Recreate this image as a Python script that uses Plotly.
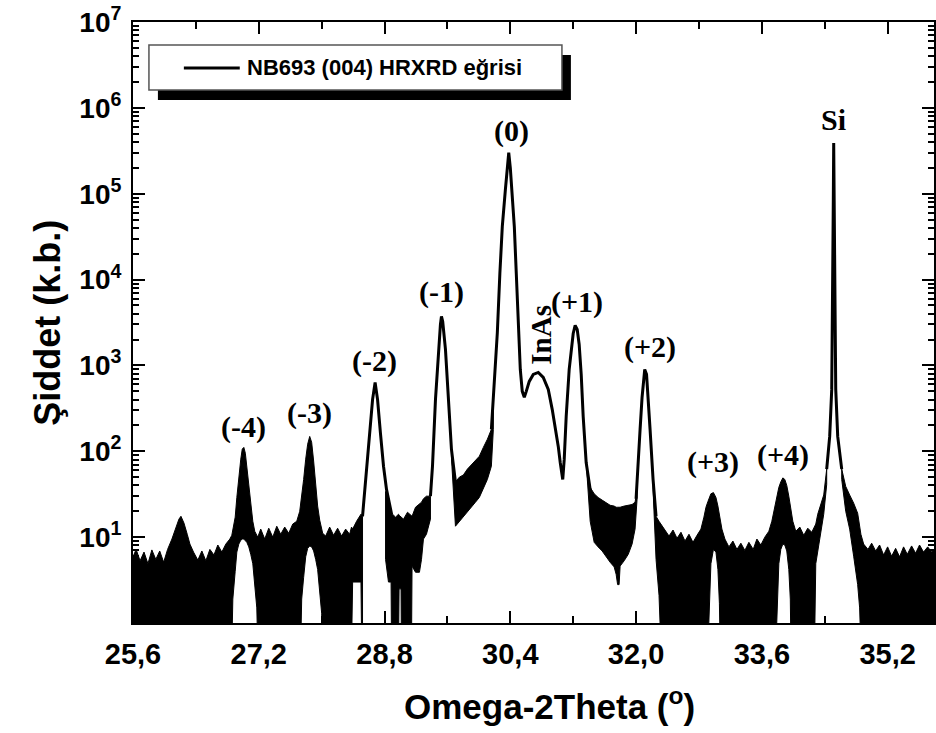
import plotly.graph_objects as go

# ---------------- data ----------------
# main (clean) line segments: degrees / counts ; None separates segments
curve_x = [
    28.52, 28.55, 28.58, 28.62, 28.648, 28.68, 28.711, 28.749, 28.787, 28.825, 28.85, 28.89, None,
    29.384, 29.41, 29.448, 29.486, 29.511, 29.524, 29.54, 29.575, 29.613, 29.651, 29.702, None,
    30.159, 30.184, 30.235, 30.267, 30.298, 30.337, 30.36, 30.38, 30.40, 30.419, 30.451, 30.476,
    30.502, 30.527, 30.552, 30.578, 30.603, 30.641, 30.692, 30.756, 30.819, 30.883, 30.933, 30.971,
    31.010, 31.035, 31.067, 31.086, 31.111, 31.149, 31.175, 31.200, 31.225, 31.251, 31.276, 31.302,
    31.327, 31.365, 31.416, None,
    32.000, 32.025, 32.051, 32.076, 32.102, 32.11, 32.133, 32.152, 32.178, 32.216, 32.254, None,
    34.425, 34.463, 34.489, 34.502, 34.509, 34.514, 34.519, 34.527, 34.540, 34.565, 34.616,
]
curve_y = [
    17.5, 36, 67, 180, 403, 634, 403, 158, 67, 36, 28, 18.5, None,
    30, 67, 403, 1535, 3000, 3715, 3250, 1535, 403, 106, 44, None,
    180, 403, 2420, 11750, 41300, 111000, 217000, 300000, 200000, 111000, 41300, 11750,
    2420, 898, 499, 425, 499, 651, 786, 829, 725, 526, 308, 195,
    114, 74, 47, 81, 255, 898, 1535, 2355, 2920, 2620, 1754, 786,
    255, 74, 36, None,
    28, 62, 180, 425, 765, 898, 786, 460, 180, 47, 17.5, None,
    62, 149, 526, 5850, 85200, 390000, 85200, 5850, 526, 149, 62,
]

# noisy band: x, upper edge, lower edge (0.5 = down to the axis); None separates bands
band_x = [
    25.60, 25.64, 25.69, 25.74, 25.79, 25.84, 25.89, 25.94, 25.99, 26.04, 26.095, 26.146, 26.184,
    26.21, 26.248, 26.29, 26.324, 26.37, 26.425, 26.476, 26.527, 26.578, 26.63, 26.679, 26.73,
    26.781, 26.832, 26.857,
    26.87, 26.90, 26.921, 26.946, 26.971, 26.990, 27.010, 27.029, 27.048, 27.073, 27.098, 27.124,
    27.149, 27.175, 27.187,
    27.225, 27.276, 27.327, 27.378, 27.429, 27.479, 27.530, 27.581, 27.632, 27.683, 27.721, 27.733,
    27.746, 27.771, 27.797, 27.822, 27.848, 27.873, 27.898, 27.924, 27.949, 27.975, 28.000, 28.013,
    28.051, 28.102, 28.152, 28.203, 28.254, 28.305, 28.356, 28.38, 28.394, 28.444, 28.50, 28.51, 28.52,
    None,
    28.813, 28.85, 28.883, 28.889, 28.940, 28.978, 28.985, 29.010, 29.015, 29.041, 29.092, 29.143,
    29.15, 29.194, 29.244, 29.270, 29.295, 29.333, 29.384,
    None,
    29.651, 29.702, 29.752, 29.803, 29.854, 29.905, 29.956, 30.006, 30.057, 30.108, 30.159, 30.184,
    None,
    31.365, 31.416, 31.467, 31.517, 31.568, 31.619, 31.670, 31.721, 31.746, 31.765, 31.784, 31.797,
    31.848, 31.90, 31.949, 31.987, 32.013,
    None,
    32.216, 32.254, 32.292, 32.317, 32.368, 32.419, 32.470, 32.521, 32.571, 32.622, 32.673, 32.724,
    32.775, 32.825, 32.863, 32.889, 32.914, 32.933, 32.952, 32.984, 33.016, 33.041, 33.060, 33.07,
    33.092, 33.130, 33.181, 33.232, 33.283, 33.333, 33.384, 33.435, 33.49, 33.537, 33.587, 33.638,
    33.689, 33.727, 33.752, 33.778, 33.797, 33.816, 33.841, 33.867, 33.892, 33.917, 33.943, 33.962,
    33.97, 33.994, 34.032, 34.083, 34.133, 34.184, 34.235, 34.27, 34.286, 34.311, 34.349, 34.387, 34.425,
    None,
    34.616, 34.667, 34.717, 34.768, 34.819, 34.844, 34.86, 34.895, 34.95, 34.997, 35.048, 35.098,
    35.149, 35.20, 35.251, 35.302, 35.352, 35.403, 35.45, 35.505, 35.556, 35.606, 35.657, 35.71,
    35.76, 35.80,
]
band_hi = [
    5.9, 7.2, 5.3, 6.7, 4.9, 7.1, 5.5, 6.9, 5.1, 7.2, 9.5, 13.1, 16.2,
    17.5, 14.6, 10.8, 8.3, 6.7, 5.4, 6.9, 5.3, 7.2, 6.2, 8.1, 6.7,
    8.3, 9.5, 10.5,
    12.4, 17.1, 29, 50, 81, 106, 111, 95, 65, 36, 22.3, 15.3,
    11.7, 10.3, 10.0,
    12.4, 9.5, 12.7, 10.0, 13.4, 10.8, 13.1, 11.1, 14.2, 15.3, 20, 24,
    29, 47, 81, 121, 149, 127, 77, 39, 23, 15.8, 12.4, 11.1,
    10.3, 13.1, 10.5, 12.7, 10.3, 12.4, 10.8, 13.1, 12.4, 15.3, 18.5, 17.5, 17.5,
    None,
    34, 28, 20, 19, 17.1, 18.5, 18, 17.1, 17.1, 16.2, 19.5, 17.5,
    17.5, 22.3, 24, 25.5, 28, 30, 30,
    None,
    100, 44, 50, 53, 62, 69, 77, 87.5, 111, 138, 180, 403,
    None,
    74, 38, 32, 29, 27, 24.9, 23.5, 23, 22.3, 22.3, 22.3, 22.3,
    23, 23.5, 24, 25.5, 36,
    None,
    47, 17.5, 15.3, 14.2, 12.4, 10.3, 12.1, 9.7, 11.4, 9.0, 10.8, 8.7,
    10.5, 12.4, 17.1, 22.3, 26, 29, 32, 33, 29, 23, 18.5, 16.2,
    12.4, 9.5, 7.7, 9.0, 7.2, 8.5, 7.0, 8.7, 7.2, 9.5, 8.1, 10.0,
    11.7, 15.3, 20, 26, 32, 38, 44, 49, 47, 40, 30, 23,
    19.5, 15.3, 11.7, 13.1, 10.5, 12.7, 11.4, 13.1, 14.2, 18.5, 24, 31, 62,
    None,
    62, 39, 31, 24.9, 19, 14.2, 10.8, 8.3, 7.2, 8.5, 6.9, 8.1,
    6.2, 7.7, 6.0, 7.4, 5.9, 7.7, 6.3, 7.9, 6.5, 8.1, 6.7, 7.7,
    6.7, 7.2,
]
band_lo = [
    0.5, 0.5, 0.5, 0.5, 0.5, 0.5, 0.5, 0.5, 0.5, 0.5, 0.5, 0.5, 0.5,
    0.5, 0.5, 0.5, 0.5, 0.5, 0.5, 0.5, 0.5, 0.5, 0.5, 0.5, 0.5,
    0.5, 0.5, 0.5,
    1.9, 4.0, 6.7, 8.3, 9.2, 9.5, 9.5, 9.2, 8.7, 7.7, 6.3, 4.9,
    3.0, 1.5, 0.5,
    0.5, 0.5, 0.5, 0.5, 0.5, 0.5, 0.5, 0.5, 0.5, 0.5, 0.5, 0.5,
    1.9, 3.4, 5.9, 7.4, 7.9, 7.7, 6.9, 5.5, 4.2, 2.6, 1.3, 0.5,
    0.5, 0.5, 0.5, 0.5, 0.5, 0.5, 0.5, 0.5, 3.0, 3.0, 3.0, 0.5, 0.5,
    None,
    5.5, 3.0, 3.0, 0.5, 0.5, 0.5, 2.5, 2.5, 0.5, 0.5, 0.5, 0.5,
    4.6, 3.9, 3.9, 5.5, 9.5, 10.8, 16.2,
    None,
    85, 13.4, 15.3, 17.1, 19.5, 22.3, 25.5, 29, 36, 47, 67, 180,
    None,
    62, 15.3, 8.7, 7.7, 6.9, 5.9, 5.1, 4.5, 3.7, 2.8, 2.8, 4.6,
    5.3, 6.3, 8.3, 12.4, 28,
    None,
    36, 5.5, 2.1, 0.5, 0.5, 0.5, 0.5, 0.5, 0.5, 0.5, 0.5, 0.5,
    0.5, 0.5, 0.5, 0.5, 0.5, 1.7, 4.9, 7.2, 6.7, 4.2, 1.7, 0.5,
    0.5, 0.5, 0.5, 0.5, 0.5, 0.5, 0.5, 0.5, 0.5, 0.5, 0.5, 0.5,
    0.5, 0.5, 0.5, 0.5, 1.9, 4.9, 7.2, 8.3, 8.1, 6.9, 4.2, 1.9,
    0.5, 0.5, 0.5, 0.5, 0.5, 0.5, 0.5, 0.5, 4.9, 7.2, 10.8, 18.5, 41,
    None,
    47, 20, 12.4, 6.0, 2.8, 1.5, 0.5, 0.5, 0.5, 0.5, 0.5, 0.5,
    0.5, 0.5, 0.5, 0.5, 0.5, 0.5, 0.5, 0.5, 0.5, 0.5, 0.5, 0.5,
    0.5, 0.5,
]

# peak labels
label_text = ["(-4)", "(-3)", "(-2)", "(-1)", "(0)", "(+1)", "(+2)", "(+3)", "(+4)", "Si"]
label_x = [27.00, 27.85, 28.67, 29.52, 30.41, 31.25, 32.18, 32.98, 33.87, 34.51]
label_logy = [2.28, 2.45, 3.05, 3.86, 5.73, 3.74, 3.22, 1.87, 1.96, 5.86]
inas_x, inas_logy = 30.78, 3.36

x_tickvals = [25.6, 27.2, 28.8, 30.4, 32.0, 33.6, 35.2]
x_ticktext = ["25,6", "27,2", "28,8", "30,4", "32,0", "33,6", "35,2"]
x_minor = [26.4, 28.0, 29.6, 31.2, 32.8, 34.4]
y_exps = [1, 2, 3, 4, 5, 6, 7]

legend_label = "NB693 (004) HRXRD eğrisi"
x_title = "Omega-2Theta (<sup>o</sup>)"
y_title = "Şiddet (k.b.)"

# ---------------- figure ----------------
# build closed polygons of the noise bands
poly_x, poly_y = [], []
seg_x, seg_hi, seg_lo = [], [], []
for xv, hv, lv in list(zip(band_x, band_hi, band_lo)) + [(None, None, None)]:
    if xv is None:
        if seg_x:
            poly_x += seg_x + seg_x[::-1] + [seg_x[0], None]
            poly_y += seg_hi + seg_lo[::-1] + [seg_hi[0], None]
        seg_x, seg_hi, seg_lo = [], [], []
    else:
        seg_x.append(xv); seg_hi.append(hv); seg_lo.append(lv)

fig = go.Figure()
fig.add_trace(go.Scatter(x=poly_x, y=poly_y, mode="lines", fill="toself",
                         fillcolor="black", line=dict(color="black", width=1),
                         hoverinfo="skip", showlegend=False))
fig.add_trace(go.Scatter(x=curve_x, y=curve_y, mode="lines",
                         line=dict(color="black", width=3),
                         name=legend_label, showlegend=False))

serif = "Liberation Serif, Times New Roman, serif"
sans = "Arial, Liberation Sans, sans-serif"

annotations = []
for t, xv, ly in zip(label_text, label_x, label_logy):
    annotations.append(dict(x=xv, y=ly, xref="x", yref="y", text=t, showarrow=False,
                            font=dict(family=serif, size=30, color="black", weight="bold")))
annotations.append(dict(x=inas_x, y=inas_logy, xref="x", yref="y", text="InAs", showarrow=False,
                        textangle=-90,
                        font=dict(family=serif, size=29, color="black", weight="bold")))
annotations.append(dict(x=0.52, y=-0.135, xref="paper", yref="paper", text=x_title,
                        showarrow=False, xanchor="center", yanchor="middle",
                        font=dict(family=sans, size=35, color="black", weight="bold")))
annotations.append(dict(x=-0.107, y=0.5, xref="paper", yref="paper", text=y_title,
                        showarrow=False, textangle=-90, xanchor="center", yanchor="middle",
                        font=dict(family=sans, size=36, color="black", weight="bold")))
annotations.append(dict(x=0.1395, y=0.9235, xref="paper", yref="paper", text=legend_label,
                        showarrow=False, xanchor="left", yanchor="middle",
                        font=dict(family=sans, size=22, color="black", weight="bold")))

shapes = [
    dict(type="rect", xref="paper", yref="paper", x0=0.0311, x1=0.5467, y0=0.8702, y1=0.9451,
         fillcolor="black", line=dict(width=0)),
    dict(type="rect", xref="paper", yref="paper", x0=0.0199, x1=0.5355, y0=0.8869, y1=0.9617,
         fillcolor="white", line=dict(color="#555555", width=1.5)),
    dict(type="line", xref="paper", yref="paper", x0=0.0635, x1=0.1333, y0=0.9235, y1=0.9235,
         line=dict(color="black", width=3)),
]

minor_y = [m * 10 ** k for k in range(0, 7) for m in range(2, 10)]

fig.update_layout(
    width=936, height=733,
    margin=dict(l=133, r=0, t=22, b=110),
    paper_bgcolor="white", plot_bgcolor="white",
    showlegend=False,
    annotations=annotations,
    shapes=shapes,
    xaxis=dict(range=[25.6, 35.79], tickmode="array", tickvals=x_tickvals, ticktext=x_ticktext,
               ticks="inside", ticklen=12, tickwidth=2, tickcolor="black",
               minor=dict(tickmode="array", tickvals=x_minor, ticks="inside", ticklen=7,
                          tickwidth=2, tickcolor="black"),
               showline=True, linewidth=2, linecolor="black", mirror="allticks",
               showgrid=False, zeroline=False, ticklabelstandoff=4,
               tickfont=dict(family=sans, size=29, color="black", weight="bold")),
    yaxis=dict(type="log", range=[0, 7], tickmode="array",
               tickvals=[10 ** e for e in y_exps],
               ticktext=["10<sup>%d</sup>" % e for e in y_exps],
               ticks="inside", ticklen=12, tickwidth=2, tickcolor="black",
               minor=dict(tickmode="array", tickvals=minor_y, ticks="inside", ticklen=6,
                          tickwidth=2, tickcolor="black"),
               showline=True, linewidth=2, linecolor="black", mirror="allticks",
               showgrid=False, zeroline=False, ticklabelstandoff=4,
               tickfont=dict(family=sans, size=28, color="black", weight="bold")),
)

fig.write_html("out.html")
